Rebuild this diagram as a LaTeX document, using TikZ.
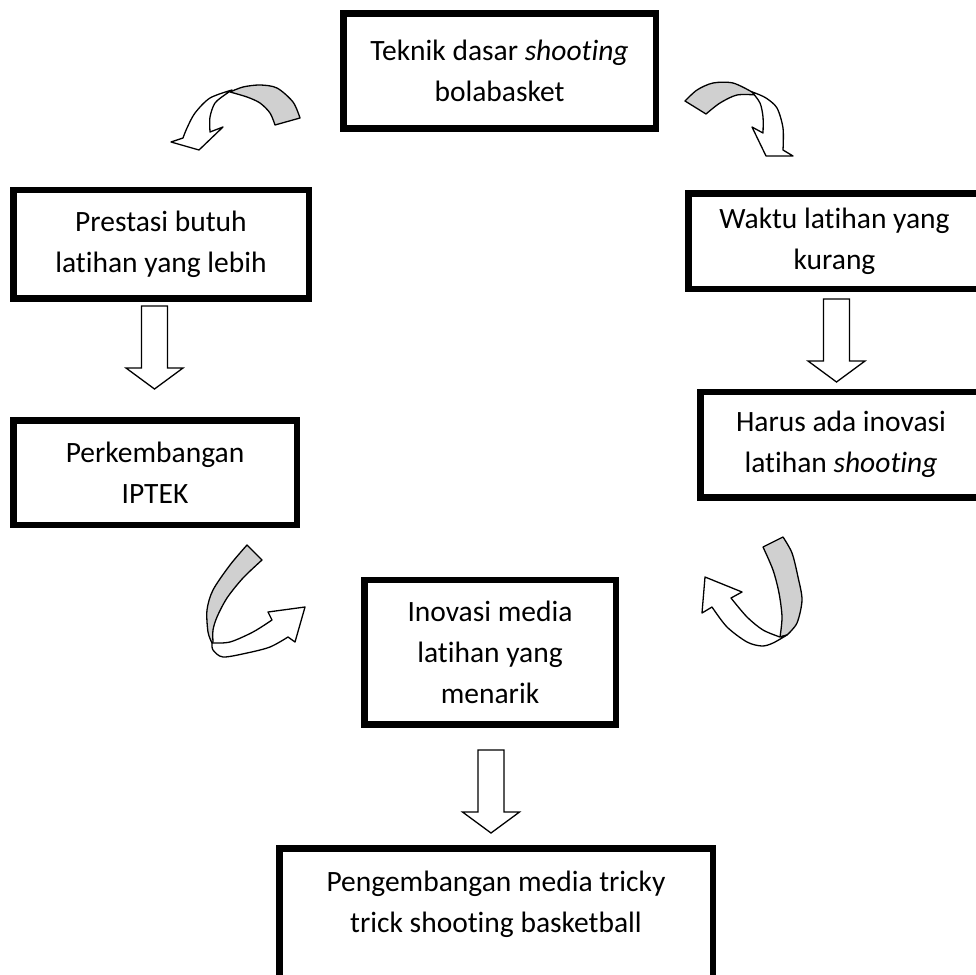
\documentclass[tikz,border=0pt]{standalone}
\usepackage{fontspec}
\setmainfont{Carlito}[Ligatures=NoCommon]
\usetikzlibrary{calc}
\definecolor{bandgray}{RGB}{208,208,208}
\tikzset{
  box/.style={draw, line width=6.5pt, align=center, inner sep=0pt,
    font=\fontsize{29.5}{41}\selectfont},
  ribbonfront/.style={fill=white, draw=black, line width=1.3pt, line join=round},
  ribbonback/.style={fill=bandgray, draw=black, line width=1.3pt, line join=round},
  downarrow/.pic={
    \filldraw[ribbonfront, line join=miter] (-13,0) -- (-13,62) -- (-28.5,62)
      -- (0,83) -- (28.5,62) -- (13,62) -- (13,0) -- cycle;
  }
}

\begin{document}
\begin{tikzpicture}[x=1pt,y=-1pt]
    \useasboundingbox (0,0) rectangle (976,974);
    \clip (0,0) rectangle (976,974);

    % boxes
    \node[box, minimum width=312.5pt, minimum height=114.5pt] (teknik) at (499.5,71)
        {Teknik dasar \textit{shooting}\\bolabasket};
    \node[box, minimum width=295.5pt, minimum height=108.5pt] (prestasi) at (161,244)
        {Prestasi butuh\\latihan yang lebih};
    \node[box, minimum width=283.5pt, minimum height=104.5pt] (iptek) at (155,472.5)
        {Perkembangan\\IPTEK};
    \node[box, minimum width=292.5pt, minimum height=95.5pt] (waktu) at (834.5,241)
        {Waktu latihan yang\\kurang};
    \node[box, minimum width=281.5pt, minimum height=105.5pt] (harus) at (841,444.5)
        {Harus ada inovasi\\latihan \textit{shooting}};
    \node[box, minimum width=251.5pt, minimum height=144.5pt] (inovasi) at (490,652)
        {Inovasi media\\latihan yang\\menarik};
    \node[box, minimum width=433.5pt, minimum height=147.5pt] (tricky) at (496,922)
        {Pengembangan media tricky\\trick shooting basketball\\~};

    % straight block arrows
    \pic at ($(prestasi.south)+(-6.5,4.5)$) {downarrow};
    \pic at ($(waktu.south)+(2,7)$) {downarrow};
    \pic at ($(inovasi.south)+(1,22.5)$) {downarrow};

    % curved arrow, top left
    \filldraw[ribbonback] plot[smooth] coordinates {(300,118) (293,102) (277,88) (260,85) (243,87) (230,92)}
        -- plot[smooth] coordinates {(230,92) (247,97) (260,103) (270,113) (275,125)} -- cycle;
    \filldraw[ribbonfront] plot[smooth] coordinates {(232,90) (210,98) (195,113) (187,128) (183,138)}
        -- (171,142) -- (199,150) -- (223,127) -- (210,132)
        -- plot[smooth] coordinates {(210,132) (210,117) (215,103) (226,94) (232,90)} -- cycle;

    % curved arrow, top right
    \filldraw[ribbonback] plot[smooth] coordinates {(685,101) (697,90) (713,83) (733,83) (752,92)}
        -- plot[smooth] coordinates {(757,95) (737,95) (720,103) (706,114)} -- cycle;
    \filldraw[ribbonfront] plot[smooth] coordinates {(752,92) (760,103) (763,117) (763,133)}
        -- (752,127) -- (766,156) -- (793,156) -- (783,150)
        -- plot[smooth] coordinates {(783,150) (783,128) (777,108) (766,98) (755,93)} -- cycle;

    % curved arrow, bottom left
    \filldraw[ribbonback] plot[smooth] coordinates {(247,545) (230,565) (213,590) (207,610) (208,632) (212,643)}
        -- plot[smooth] coordinates {(213,642) (213,630) (217,617) (227,598) (243,578) (262,560)} -- cycle;
    \filldraw[ribbonfront] plot[smooth] coordinates {(212,643) (230,642) (253,632) (272,620)}
        -- (268,612) -- (305,607) -- (295,642) -- (288,637)
        -- plot[smooth] coordinates {(288,637) (270,647) (247,653) (223,657) (213,650) (212,643)} -- cycle;

    % curved arrow, bottom right
    \filldraw[ribbonback] plot[smooth] coordinates {(783,537) (792,553) (798,577) (802,600) (797,623) (787,635)}
        -- plot[smooth] coordinates {(780,637) (782,617) (779,593) (773,570) (763,547)} -- cycle;
    \filldraw[ribbonfront] plot[smooth] coordinates {(787,635) (773,643) (762,646) (747,642) (727,627) (712,607)}
        -- (702,613) -- (705,577) -- (742,592) -- (731,598)
        -- plot[smooth] coordinates {(731,598) (747,617) (763,630) (780,637)} -- cycle;
\end{tikzpicture}
\end{document}
